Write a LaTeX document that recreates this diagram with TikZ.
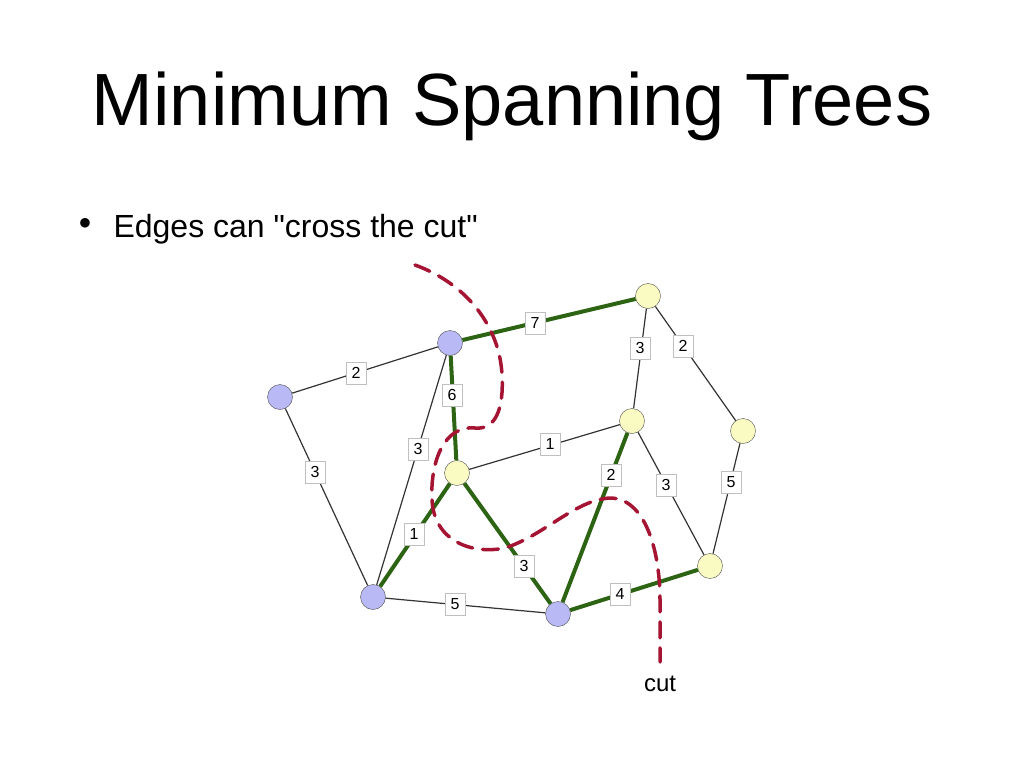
\documentclass[tikz,border=0pt]{standalone}
\usepackage{fontspec}
\setmainfont{Liberation Sans}
\definecolor{vblue}{RGB}{185,185,245}
\definecolor{vyellow}{RGB}{250,250,195}
\definecolor{mstgreen}{RGB}{45,100,20}
\definecolor{cutred}{RGB}{165,20,50}
\tikzset{
  vtx/.style={circle,draw=black!70,minimum size=25pt,inner sep=0pt},
  wgt/.style={fill=white,draw=black!25,font=\fontsize{16}{16}\selectfont,inner sep=3pt,minimum width=20pt,minimum height=22pt},
  plain/.style={black!80,line width=1.2pt},
  tree/.style={mstgreen,line width=4pt}
}
\begin{document}
\begin{tikzpicture}[x=1pt,y=-1pt]
	\useasboundingbox (0,0) rectangle (1024,768);
	\node at (512,106) {\fontsize{74}{74}\selectfont Minimum Spanning Trees};
	\node at (85,224) {\fontsize{32}{32}\selectfont$\bullet$};
	\node[anchor=west] at (110,229) {\fontsize{32}{32}\selectfont Edges can \textquotedbl cross the cut\textquotedbl};
	
	% vertices
	\node[vtx,fill=vblue] (a) at (280,397) {};
	\node[vtx,fill=vblue] (b) at (450,343) {};
	\node[vtx,fill=vyellow] (c) at (457,473) {};
	\node[vtx,fill=vblue] (d) at (373,597) {};
	\node[vtx,fill=vblue] (e) at (558,614) {};
	\node[vtx,fill=vyellow] (f) at (648,296) {};
	\node[vtx,fill=vyellow] (g) at (632,421) {};
	\node[vtx,fill=vyellow] (h) at (743,431) {};
	\node[vtx,fill=vyellow] (i) at (710,566) {};
	
	% edges
	\draw[plain] (a) -- (b);
	\draw[plain] (a) -- (d);
	\draw[plain] (b) -- (d);
	\draw[plain] (c) -- (g);
	\draw[plain] (d) -- (e);
	\draw[plain] (f) -- (g);
	\draw[plain] (f) -- (h);
	\draw[plain] (g) -- (i);
	\draw[plain] (h) -- (i);
	\draw[tree] (b) -- (f);
	\draw[tree] (b) -- (c);
	\draw[tree] (c) -- (d);
	\draw[tree] (c) -- (e);
	\draw[tree] (e) -- (g);
	\draw[tree] (e) -- (i);
	
	% weights
	\node[wgt] at (356,373) {2};
	\node[wgt] at (315,472) {3};
	\node[wgt] at (535,323) {7};
	\node[wgt] at (452,395) {6};
	\node[wgt] at (418,449) {3};
	\node[wgt] at (550,444) {1};
	\node[wgt] at (414,534) {1};
	\node[wgt] at (524,566) {3};
	\node[wgt] at (455,604) {5};
	\node[wgt] at (611,475) {2};
	\node[wgt] at (620,594) {4};
	\node[wgt] at (640,348) {3};
	\node[wgt] at (683,346) {2};
	\node[wgt] at (666,485) {3};
	\node[wgt] at (731,482) {5};
	
	% the cut
	\draw[cutred,line width=3.5pt,dash pattern=on 16pt off 10pt,line cap=round]
	  (415,265) .. controls (470,285) and (500,330) .. (502,375)
	  .. controls (504,410) and (495,430) .. (475,428)
	  .. controls (445,425) and (430,460) .. (432,500)
	  .. controls (434,540) and (470,555) .. (505,548)
	  .. controls (545,535) and (575,500) .. (610,498)
	  .. controls (645,498) and (660,550) .. (660,600)
	  -- (660,662);
	\node (cut) at (660,684) {\fontsize{24}{24}\selectfont cut};
\end{tikzpicture}
\end{document}
